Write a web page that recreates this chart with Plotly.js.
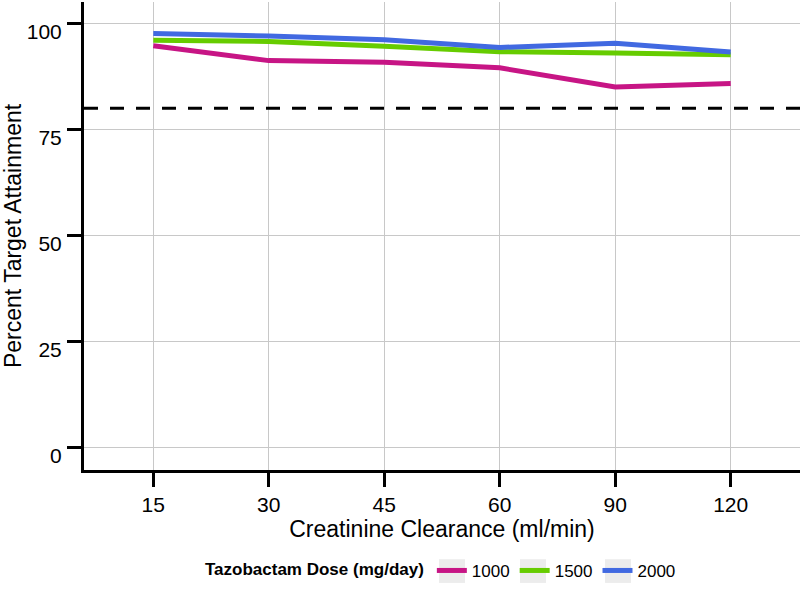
<!DOCTYPE html>
<html><head><meta charset="utf-8">
<script src="https://cdn.plot.ly/plotly-3.0.1.min.js"></script>
<style>body{margin:0;padding:0;background:#fff}</style>
</head><body>
<div id="chart" style="width:800px;height:589px"></div>
<script>
const clearance = ["15", "30", "45", "60", "90", "120"];
const dose1000 = [94.7, 91.2, 90.8, 89.5, 85.0, 85.8];
const dose1500 = [96.0, 95.7, 94.6, 93.3, 93.0, 92.6];
const dose2000 = [97.6, 97.0, 96.1, 94.3, 95.3, 93.2];
const seriesNames = ["1000", "1500", "2000"];
const yTicks = [0, 25, 50, 75, 100];
const targetLine = 80;

const colors = ["#C71585", "#66CC00", "#4169E1"];
const vals = [dose1000, dose1500, dose2000];
const traces = vals.map((v, i) => ({
  x: clearance, y: v, type: "scatter", mode: "lines",
  name: seriesNames[i],
  line: {color: colors[i], width: 5}
}));

const keyBox = (x0, x1) => ({
  type: "rect", xref: "paper", yref: "paper", layer: "above",
  x0: x0, x1: x1, y0: -0.1906, y1: -0.2413,
  fillcolor: "#ececec", line: {width: 0}
});

const layout = {
  width: 800, height: 589,
  margin: {l: 84, r: 0, t: 2, b: 114},
  paper_bgcolor: "#fff", plot_bgcolor: "#fff",
  font: {family: "Liberation Sans, Arial, sans-serif", color: "#000"},
  xaxis: {
    type: "category", range: [-0.6, 5.6],
    showgrid: true, gridcolor: "#c8c8c8", gridwidth: 1,
    showline: true, linecolor: "#000", linewidth: 3,
    ticks: "outside", ticklen: 14, tickwidth: 3, tickcolor: "#000",
    tickfont: {size: 21, color: "#000"},
    title: {text: "Creatinine Clearance (ml/min)", font: {size: 23}, standoff: 1},
    zeroline: false
  },
  yaxis: {
    range: [-5.2, 105], tickvals: yTicks,
    showgrid: true, gridcolor: "#c8c8c8", gridwidth: 1,
    showline: true, linecolor: "#000", linewidth: 3,
    ticks: "outside", ticklen: 14, tickwidth: 3, tickcolor: "#000",
    tickfont: {size: 21, color: "#000"},
    ticklabelshift: 8, ticklabelstandoff: 1,
    title: {text: "Percent Target Attainment", font: {size: 23}, standoff: 4},
    zeroline: false
  },
  shapes: [
    {type: "line", xref: "paper", x0: 0, x1: 1, yref: "y", y0: targetLine, y1: targetLine,
     line: {color: "#000", width: 3, dash: "14px,12px"}},
    keyBox(0.4958, 0.5321),
    keyBox(0.6089, 0.6453),
    keyBox(0.7277, 0.7640)
  ],
  showlegend: true,
  legend: {
    orientation: "h", x: 0.5, xanchor: "center", y: -0.2156, yanchor: "middle",
    bgcolor: "rgba(0,0,0,0)",
    title: {text: "<b>Tazobactam Dose (mg/day)</b>", font: {size: 17}, side: "left"},
    font: {size: 17}, itemwidth: 30
  }
};
Plotly.newPlot("chart", traces, layout, {displayModeBar: false, staticPlot: true});
</script>
</body></html>
